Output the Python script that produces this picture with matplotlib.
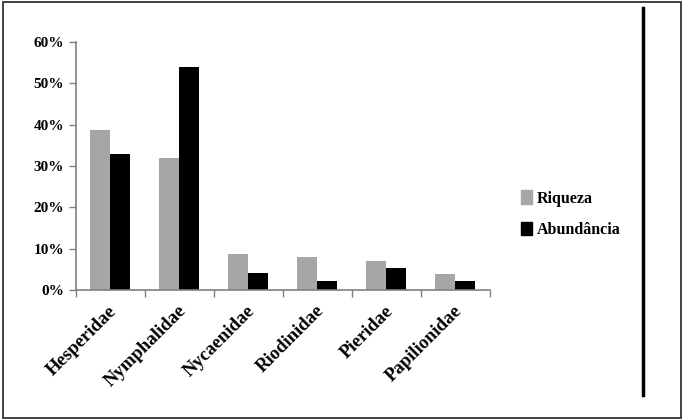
import matplotlib.pyplot as plt
import numpy as np
from matplotlib.patches import Rectangle, Patch
from matplotlib.lines import Line2D
from matplotlib.ticker import FuncFormatter

families = ['Hesperidae', 'Nymphalidae', 'Nycaenidae', 'Riodinidae', 'Pieridae', 'Papilionidae']
riqueza = [0.387, 0.32, 0.087, 0.08, 0.07, 0.039]
abundancia = [0.329, 0.54, 0.041, 0.022, 0.053, 0.022]

plt.rcParams['font.family'] = ['Liberation Serif', 'DejaVu Serif']
plt.rcParams['font.weight'] = 'bold'

fig = plt.figure(figsize=(6.84, 4.2), dpi=100)
ax = fig.add_axes([0.111, 0.3095, 0.605, 0.5905])

x = np.arange(len(families))
w = 0.29
ax.bar(x - w / 2, riqueza, w, color='#a6a6a6', label='Riqueza')
ax.bar(x + w / 2, abundancia, w, color='black', label='Abundância')

ax.set_xlim(-0.5, len(families) - 0.5)
ax.set_ylim(0, 0.6)
ax.set_yticks(np.arange(0, 0.61, 0.1))
ax.yaxis.set_major_formatter(FuncFormatter(lambda v, p: f'{v * 100:.0f}%'))
ax.set_xticks(np.arange(-0.5, len(families), 1))
ax.set_xticklabels([])
for i, name in enumerate(families):
    ax.text(i - 0.03, -0.03, name, rotation=45, ha='right', va='top',
            rotation_mode='anchor', fontsize=13.5, fontweight='bold',
            transform=ax.transData)

for s in ['top', 'right']:
    ax.spines[s].set_visible(False)
for s in ['left', 'bottom']:
    ax.spines[s].set_color('#808080')
    ax.spines[s].set_linewidth(1.2)
ax.tick_params(axis='y', colors='#808080', labelcolor='black', labelsize=11, length=5, width=1)
ax.tick_params(axis='x', colors='#808080', length=5, width=1)

handles = [Patch(color='#a6a6a6'), Patch(color='black')]
fig.legend(handles, ['Riqueza', 'Abundância'], loc='center left',
           bbox_to_anchor=(0.74, 0.49), frameon=False, fontsize=11.5,
           handlelength=0.7, handleheight=0.9, handletextpad=0.3, labelspacing=0.95)

fig.patches.append(Rectangle((0.004, 0.005), 0.992, 0.99, transform=fig.transFigure,
                             fill=False, edgecolor='#333333', linewidth=1.3))
fig.lines.append(Line2D([0.940, 0.940], [0.06, 0.981], transform=fig.transFigure,
                        color='black', linewidth=2.5))

fig.savefig('out.png', dpi=100)
